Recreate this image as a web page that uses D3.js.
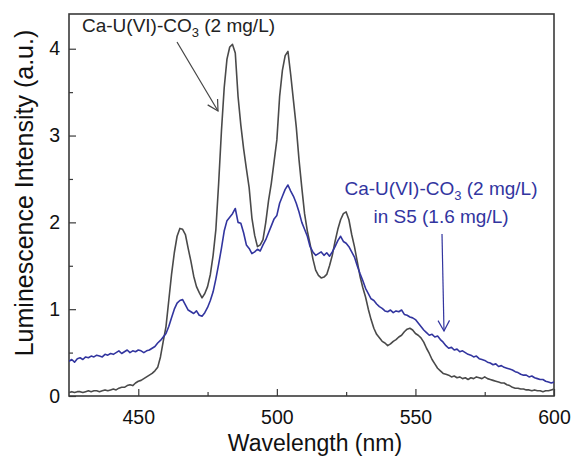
<html>
<head>
  <style>
    body { margin: 0; background: #fff; }
    text { font-family: Arial, "Liberation Sans", sans-serif; }
  </style>
</head>
<body>
<div id="mydiv"></div>
<script src="https://d3js.org/d3.v7.min.js"></script>
<script>

let width = 579, height = 461;
let margin = {left: 69, right: 25, top: 14, bottom: 65};

// wavelength grid (nm), 1 nm steps
var wavelength = d3.range(425, 601);

// Ca-U(VI)-CO3 (2 mg/L)  -- grey trace
var caUCO3 = [
  0.04,0.05,0.04,0.05,0.05,0.04,0.05,0.06,0.05,0.06,
  0.06,0.05,0.06,0.07,0.06,0.07,0.08,0.07,0.09,0.10,
  0.10,0.12,0.13,0.12,0.15,0.17,0.18,0.20,0.22,0.24,
  0.26,0.29,0.33,0.45,0.63,0.80,1.10,1.40,1.65,1.84,
  1.93,1.92,1.86,1.70,1.55,1.38,1.26,1.19,1.13,1.18,
  1.26,1.40,1.62,1.92,2.45,3.05,3.55,3.88,4.02,4.05,
  3.95,3.45,3.12,2.85,2.62,2.40,2.05,1.85,1.72,1.74,
  1.80,2.00,2.25,2.45,2.70,2.95,3.45,3.75,3.92,3.97,
  3.70,3.40,3.10,2.72,2.40,2.10,1.90,1.75,1.58,1.45,
  1.39,1.36,1.37,1.40,1.50,1.62,1.78,1.92,2.03,2.10,
  2.12,2.03,1.86,1.72,1.55,1.38,1.25,1.14,1.00,0.88,
  0.78,0.71,0.67,0.63,0.61,0.58,0.60,0.63,0.65,0.68,
  0.70,0.74,0.77,0.78,0.76,0.72,0.70,0.67,0.62,0.55,
  0.49,0.42,0.37,0.32,0.29,0.26,0.25,0.24,0.22,0.23,
  0.21,0.22,0.20,0.21,0.19,0.21,0.20,0.22,0.21,0.20,
  0.22,0.20,0.19,0.18,0.17,0.16,0.15,0.15,0.13,0.12,
  0.10,0.09,0.09,0.08,0.08,0.07,0.07,0.06,0.07,0.06,
  0.06,0.05,0.06,0.06,0.07,0.08
];

// Ca-U(VI)-CO3 (2 mg/L) in S5 (1.6 mg/L)  -- blue trace
var caUCO3S5 = [
  0.40,0.42,0.39,0.43,0.44,0.42,0.45,0.44,0.46,0.45,
  0.47,0.46,0.45,0.48,0.47,0.49,0.48,0.50,0.52,0.49,
  0.51,0.53,0.50,0.52,0.51,0.53,0.52,0.50,0.52,0.53,
  0.55,0.57,0.61,0.64,0.68,0.72,0.80,0.90,1.00,1.07,
  1.10,1.11,1.05,0.99,0.97,0.95,0.98,0.93,0.92,0.96,
  1.02,1.10,1.20,1.35,1.52,1.70,1.90,2.02,2.06,2.10,
  2.16,2.00,1.99,1.88,1.74,1.70,1.64,1.66,1.69,1.67,
  1.74,1.80,1.88,1.96,2.04,2.08,2.22,2.30,2.38,2.43,
  2.36,2.30,2.22,2.12,2.00,1.92,1.84,1.72,1.66,1.62,
  1.64,1.66,1.62,1.65,1.61,1.66,1.72,1.79,1.84,1.78,
  1.76,1.72,1.66,1.60,1.50,1.41,1.33,1.24,1.18,1.12,
  1.10,1.06,1.03,1.01,0.98,0.97,0.99,0.96,0.98,0.97,
  0.99,0.94,0.93,0.91,0.90,0.88,0.84,0.80,0.76,0.73,
  0.70,0.71,0.68,0.69,0.65,0.62,0.58,0.55,0.56,0.53,
  0.54,0.51,0.52,0.50,0.48,0.47,0.45,0.46,0.43,0.42,
  0.41,0.39,0.38,0.36,0.37,0.34,0.35,0.33,0.32,0.31,
  0.30,0.28,0.27,0.25,0.24,0.24,0.22,0.23,0.21,0.20,
  0.19,0.19,0.17,0.16,0.15,0.16
];

var xMajor = [450, 500, 550, 600];
var xMinor = [475, 525, 575];
var yMajor = [0, 1, 2, 3, 4];
var yMinor = [0.5, 1.5, 2.5, 3.5];

var grey = "#4a4a4a", blue = "#32359f", frame = "#3a3a3a";

let svg = d3.select("#mydiv")
  .append("svg")
  .attr("width", width)
  .attr("height", height);

let x = d3.scaleLinear().domain([425, 600]).range([margin.left, width - margin.right]);
let y = d3.scaleLinear().domain([0, 4.4]).range([height - margin.bottom, margin.top]);

svg.append("clipPath").attr("id", "plotclip")
  .append("rect")
  .attr("x", x(425)).attr("y", y(4.4))
  .attr("width", x(600) - x(425)).attr("height", y(0) - y(4.4));

// minor ticks first (inward, short)
svg.append("g")
  .attr("transform", "translate(0," + y(0) + ")")
  .call(d3.axisBottom(x).tickValues(xMinor).tickSizeInner(-4).tickSizeOuter(0).tickFormat(""))
  .call(g => g.select(".domain").remove());
svg.append("g")
  .attr("transform", "translate(" + x(425) + ",0)")
  .call(d3.axisLeft(y).tickValues(yMinor).tickSizeInner(-4).tickSizeOuter(0).tickFormat(""))
  .call(g => g.select(".domain").remove());

// major ticks + labels
let xAxis = svg.append("g")
  .attr("transform", "translate(0," + y(0) + ")")
  .call(d3.axisBottom(x).tickValues(xMajor).tickFormat(d3.format("d"))
    .tickSizeInner(-7).tickSizeOuter(0).tickPadding(14));
let yAxis = svg.append("g")
  .attr("transform", "translate(" + x(425) + ",0)")
  .call(d3.axisLeft(y).tickValues(yMajor).tickFormat(d3.format("d"))
    .tickSizeInner(-7).tickSizeOuter(0).tickPadding(9));

[xAxis, yAxis].forEach(a => {
  a.select(".domain").remove();
  a.selectAll("text").style("font-size", "19.5px").attr("fill", "#111")
    .style("font-family", "Arial, 'Liberation Sans', sans-serif");
});
svg.selectAll(".tick line").attr("stroke", frame).attr("stroke-width", 1.2);

// frame
svg.append("rect")
  .attr("x", x(425)).attr("y", y(4.4))
  .attr("width", x(600) - x(425)).attr("height", y(0) - y(4.4))
  .attr("fill", "none")
  .attr("stroke", frame)
  .attr("stroke-width", 1.6);

// traces
let line = d3.line()
  .x((d, i) => x(wavelength[i]))
  .y(d => y(d));

let traces = svg.append("g").attr("clip-path", "url(#plotclip)");
traces.append("path")
  .attr("d", line(caUCO3))
  .attr("fill", "none")
  .attr("stroke", grey)
  .attr("stroke-width", 1.6)
  .attr("stroke-linejoin", "round");
traces.append("path")
  .attr("d", line(caUCO3S5))
  .attr("fill", "none")
  .attr("stroke", blue)
  .attr("stroke-width", 1.6)
  .attr("stroke-linejoin", "round");

// axis titles
svg.append("text")
  .attr("x", 315)
  .attr("y", 451)
  .attr("text-anchor", "middle")
  .style("font-size", "23px")
  .attr("fill", "#111")
  .text("Wavelength (nm)");

svg.append("text")
  .attr("transform", "translate(33,193) rotate(-90)")
  .attr("text-anchor", "middle")
  .style("font-size", "25px")
  .attr("fill", "#111")
  .text("Luminescence Intensity (a.u.)");

// annotation labels
function coLabel(sel, xx, yy, anchor, color) {
  let t = sel.append("text")
    .attr("x", xx).attr("y", yy)
    .attr("text-anchor", anchor)
    .attr("fill", color)
    .style("font-size", "19px");
  t.append("tspan").text("Ca-U(VI)-CO");
  t.append("tspan").attr("dy", 5).style("font-size", "13px").text("3");
  t.append("tspan").attr("dy", -5).text(" (2 mg/L)");
  return t;
}

coLabel(svg, 82, 32, "start", "#222");
coLabel(svg, 441, 195, "middle", blue);
svg.append("text")
  .attr("x", 441).attr("y", 223)
  .attr("text-anchor", "middle")
  .attr("fill", blue)
  .style("font-size", "19px")
  .text("in S5 (1.6 mg/L)");

// arrows with open heads
function arrow(x1, y1, x2, y2, color) {
  let ang = Math.atan2(y2 - y1, x2 - x1);
  let len = 12, spread = 0.5;
  let a1 = ang + Math.PI - spread, a2 = ang + Math.PI + spread;
  svg.append("line")
    .attr("x1", x1).attr("y1", y1).attr("x2", x2).attr("y2", y2)
    .attr("stroke", color).attr("stroke-width", 1.2);
  svg.append("path")
    .attr("d", "M" + (x2 + len * Math.cos(a1)) + "," + (y2 + len * Math.sin(a1)) +
               "L" + x2 + "," + y2 +
               "L" + (x2 + len * Math.cos(a2)) + "," + (y2 + len * Math.sin(a2)))
    .attr("fill", "none")
    .attr("stroke", color).attr("stroke-width", 1.2);
}

arrow(177, 42, 218, 111, "#444");
arrow(442, 234, 444, 331, blue);

</script>
</body>
</html>
